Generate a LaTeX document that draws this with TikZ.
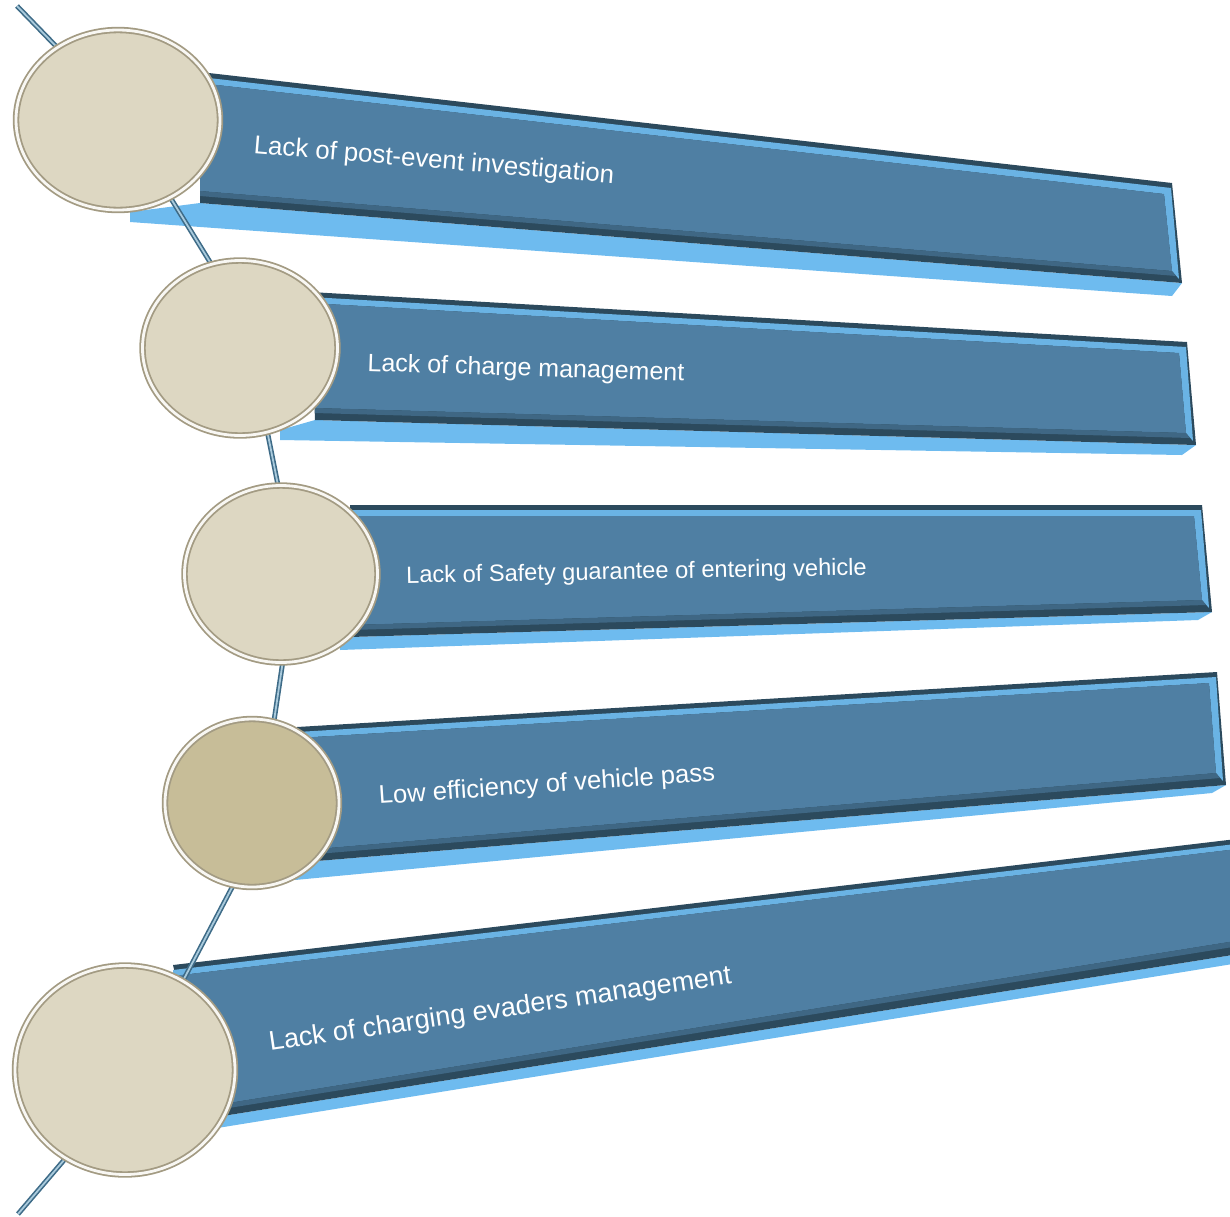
\documentclass[tikz,border=0pt]{standalone}
\usepackage{fontspec}
\setmainfont{Liberation Sans}
\usetikzlibrary{shapes.geometric,calc}

\definecolor{facemid}{HTML}{4F7FA3}
\definecolor{facedark}{HTML}{2C4A5D}
\definecolor{bevel}{HTML}{6AB3E4}
\definecolor{stripblue}{HTML}{6EBBEF}
\definecolor{discfill}{HTML}{DDD7C2}
\definecolor{disctan}{HTML}{C7BD98}
\definecolor{discrim}{HTML}{A39B83}
\definecolor{spinedark}{HTML}{3E6B87}
\definecolor{spinelight}{HTML}{A9CADC}

\pgfdeclarelayer{bars}
\pgfdeclarelayer{spine}
\pgfsetlayers{bars,spine,main}

\begin{document}
\begin{tikzpicture}[x=0.5pt,y=-0.5pt,
    disc/.style={ellipse,fill=discfill,draw=discrim,line width=0.9pt,
      double=white!80!discfill,double distance=1.4pt,inner sep=0pt},
    lbl/.style={text=white,inner sep=0pt,anchor=base west},
    spineline/.style={draw=spinedark,line width=0.8pt,double=spinelight,double distance=0.9pt}]
  \useasboundingbox (0,0) rectangle (1230,1216);
  % corners of the bars (top, bottom, strip below)
  \coordinate (tl1) at (200,72);  \coordinate (tr1) at (1172,183);
  \coordinate (bl1) at (200,203); \coordinate (br1) at (1182,283);
  \coordinate (sl1) at (130,222); \coordinate (sr1) at (1172,296);
  \coordinate (tl2) at (310,292); \coordinate (tr2) at (1187,342);
  \coordinate (bl2) at (315,420); \coordinate (br2) at (1196,445);
  \coordinate (sl2) at (280,440); \coordinate (sr2) at (1182,455);
  \coordinate (tl3) at (350,505); \coordinate (tr3) at (1202,505);
  \coordinate (bl3) at (350,637); \coordinate (br3) at (1212,612);
  \coordinate (sl3) at (340,650); \coordinate (sr3) at (1198,620);
  \coordinate (tl4) at (297,727); \coordinate (tr4) at (1217,672);
  \coordinate (bl4) at (305,862); \coordinate (br4) at (1226,785);
  \coordinate (sl4) at (295,880); \coordinate (sr4) at (1212,793);
  \coordinate (tl5) at (173,965); \coordinate (tr5) at (1245,838);
  \coordinate (bl5) at (210,1118); \coordinate (br5) at (1245,953);
  \coordinate (sl5) at (205,1130); \coordinate (sr5) at (1245,962);
  \begin{pgfonlayer}{bars}
  \begin{scope}
    \clip (0,0) rectangle (1230,1216);
    \foreach \i in {1,...,5}{
      \fill[stripblue] ($(sl\i)+(0,-10)$) -- (bl\i) -- (br\i) -- (sr\i) -- (sl\i) -- cycle;
      \fill[facedark] (tl\i) -- (tr\i) -- (br\i) -- (bl\i) -- cycle;
      \fill[bevel] ($(tl\i)+(0,5)$) -- ($(tr\i)+(-1,5)$) -- ($(br\i)+(-3,-4)$)
        -- ($(br\i)+(-10,-12)$) -- ($(tr\i)+(-8,11)$) -- ($(tl\i)+(0,11)$) -- cycle;
      \fill[facemid] ($(tl\i)+(0,11)$) -- ($(tr\i)+(-8,11)$) -- ($(br\i)+(-10,-12)$)
        -- ($(bl\i)+(0,-12)$) -- cycle;
      \fill[facemid!55!facedark] ($(bl\i)+(0,-12)$) -- ($(br\i)+(-10,-12)$)
        -- ($(br\i)+(-6,-7)$) -- ($(bl\i)+(0,-7)$) -- cycle;
    }
  \end{scope}
  \end{pgfonlayer}
  % discs
  \node[disc,minimum width=102pt,minimum height=90pt] (c1) at (118,120) {};
  \node[disc,minimum width=97.5pt,minimum height=87.5pt] (c2) at (240,348) {};
  \node[disc,minimum width=96.5pt,minimum height=88.5pt] (c3) at (281,574) {};
  \node[disc,fill=disctan,minimum width=87pt,minimum height=84pt] (c4) at (252,803) {};
  \node[disc,minimum width=110pt,minimum height=104.5pt] (c5) at (125,1070) {};
  % spine
  \coordinate (s0) at (17,6);
  \coordinate (s6) at (18,1214);
  \begin{pgfonlayer}{spine}
    \draw[spineline] (s0) -- (c1.130)
      (c1.-56) -- (c2.109)
      (c2.-72) -- (c3.92)
      (c3.-89) -- (c4.75)
      (c4.-103) -- (c5.57)
      (c5.-124) -- (s6);
  \end{pgfonlayer}
  % labels
  \node[lbl,font=\fontsize{12.9}{15}\selectfont,rotate=-4.8] (t1) at (253,153) {Lack of post-event investigation};
  \node[lbl,font=\fontsize{12.5}{15}\selectfont,rotate=-1.8] (t2) at (367,371) {Lack of charge management};
  \node[lbl,font=\fontsize{11.8}{14}\selectfont,rotate=1] (t3) at (406,583) {Lack of Safety guarantee of entering vehicle};
  \node[lbl,font=\fontsize{12.8}{15}\selectfont,rotate=3.9] (t4) at (379,804) {Low efficiency of vehicle pass};
  \node[lbl,font=\fontsize{13.5}{16}\selectfont,rotate=8.3] (t5) at (270,1051) {Lack of charging evaders management};
\end{tikzpicture}
\end{document}
